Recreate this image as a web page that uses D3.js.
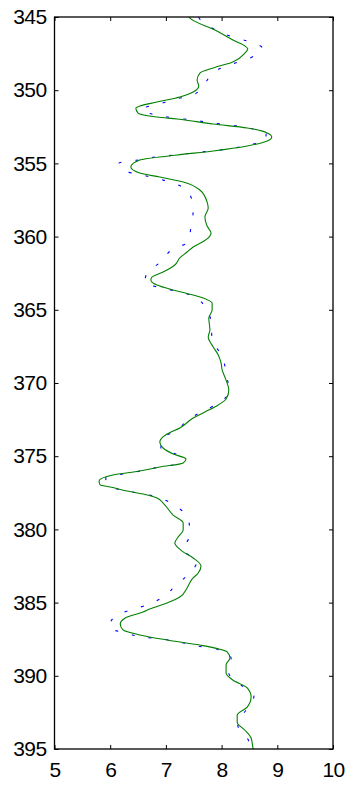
<!DOCTYPE html>
<html>
<head>
<meta charset="utf-8">
<script src="https://cdn.jsdelivr.net/npm/d3@7"></script>
<style>
  body { margin: 0; background: #fff; }
  .tick text { font-family: "Liberation Sans", Arial, sans-serif; font-size: 21px; letter-spacing: -0.6px; fill: #000; }
</style>
</head>
<body>
<div id="chart"></div>
<script>
// Set dimensions
const width = 353;
const height = 785;
const margin = { top: 17, right: 20, bottom: 36, left: 54.5 };

// tick labels
const xTicks = [5, 6, 7, 8, 9, 10];
const yTicks = [345, 350, 355, 360, 365, 370, 375, 380, 385, 390, 395];

// green (solid) series: depth, value
const greenDepth = [344.9, 345.07, 345.89, 346.64, 346.98, 347.19, 347.45, 348.07, 348.48, 348.83, 349.3, 349.71, 350.12, 350.46, 350.81,
  351.08, 351.22, 351.56, 351.83, 351.97, 352.31, 352.58, 352.92, 353.2, 353.47, 353.81, 354.15,
  354.43, 354.77, 355.25, 355.66, 355.93, 356.27, 356.82, 357.64, 358.05, 358.66, 359.28, 359.75,
  360.16, 360.71, 361.05, 361.46, 361.94, 362.42, 362.76, 362.96, 363.31, 363.72, 364.19, 364.54,
  365.01, 365.56, 366.38, 366.86, 367.54, 368.09, 368.63, 369.11, 369.8, 370.48, 371.09, 371.5,
  371.98, 372.39, 373.07, 373.48, 374.03, 374.44, 374.85, 375.19, 375.46, 375.74, 376.01, 376.28,
  376.69, 376.97, 377.1, 377.38, 377.58, 377.85, 378.2, 379.02, 379.56, 380.04, 380.52, 380.93,
  381.48, 381.95, 382.5, 382.98, 383.39, 384.0, 384.62, 385.03, 385.44, 385.64, 386.05, 386.46,
  386.87, 387.21, 387.55, 387.9, 388.37, 388.78, 389.26, 389.81, 390.29, 390.83, 391.45, 392.14,
  392.69, 393.17, 393.72, 394.25, 394.86, 395.2];
const greenValue = [7.41, 7.43, 7.88, 8.24, 8.42, 8.47, 8.42, 8.2, 7.85, 7.61, 7.56, 7.59, 7.49, 7.25, 6.84,
  6.53, 6.46, 6.5, 6.84, 7.2, 7.85, 8.46, 8.82, 8.9, 8.82, 8.46, 7.85,
  7.2, 6.53, 6.37, 6.53, 6.89, 7.31, 7.61, 7.74, 7.76, 7.7, 7.74, 7.81,
  7.74, 7.49, 7.38, 7.25, 7.16, 6.95, 6.75, 6.73, 6.84, 7.2, 7.67, 7.83,
  7.83, 7.77, 7.79, 7.76, 7.85, 7.94, 7.99, 8.01, 8.08, 8.13, 8.08, 7.94,
  7.7, 7.49, 7.25, 7.02, 6.89, 6.95, 7.13, 7.36, 7.31, 6.89, 6.53, 6.05,
  5.8, 5.82, 6.0, 6.3, 6.59, 6.84, 6.95, 7.13, 7.31, 7.31, 7.22, 7.16,
  7.29, 7.49, 7.63, 7.58, 7.47, 7.38, 7.25, 7.02, 6.71, 6.59, 6.27, 6.18,
  6.23, 6.53, 7.02, 7.61, 8.1, 8.15, 8.08, 8.08, 8.2, 8.46, 8.53, 8.46,
  8.28, 8.28, 8.42, 8.53, 8.56, 8.58];

// blue (dashed) series: depth, value
const blueDepth = [344.9, 345.14, 345.82, 346.3, 346.64, 347.12, 347.8, 348.21, 348.62, 349.51, 350.33,
  350.6, 350.94, 351.28, 351.69, 351.9, 352.04, 352.24, 352.38, 352.58, 352.92, 353.47, 353.74,
  354.02, 354.15, 354.29, 354.43, 354.56, 354.77, 354.97, 355.52, 355.79, 356.07, 356.41, 357.09,
  358.18, 359.34, 360.37, 360.85, 361.73, 362.49, 363.17, 363.51, 363.78, 364.19, 365.83, 367.06,
  368.16, 369.32, 370.55, 371.37, 371.91, 372.46, 373.28, 373.76, 374.51, 374.92, 375.53, 375.74,
  376.01, 376.22, 376.49, 377.04, 377.38, 377.58, 377.92, 378.47, 379.36, 380.38, 381.41, 382.16,
  383.05, 383.8, 384.62, 385.16, 385.5, 385.98, 386.73, 387.08, 387.36, 387.49, 387.7, 387.98,
  388.18, 388.8, 389.81, 390.63, 391.38, 393.36, 394.32, 395.2];
const blueValue = [7.57, 7.61, 7.86, 8.15, 8.46, 8.73, 8.51, 8.19, 7.92, 7.7, 7.49,
  7.18, 6.88, 6.57, 6.82, 7.16, 7.49, 7.83, 8.15, 8.47, 8.8, 8.78, 8.47,
  8.13, 7.81, 7.49, 7.15, 6.82, 6.5, 6.16, 6.25, 6.57, 6.88, 7.18, 7.43,
  7.49, 7.45, 7.4, 7.13, 6.91, 6.66, 6.62, 6.93, 7.25, 7.56, 7.81, 7.83,
  8.01, 8.08, 8.13, 7.95, 7.67, 7.41, 7.18, 6.93, 6.91, 7.2, 7.2, 6.88,
  6.55, 6.23, 5.92, 5.98, 6.3, 6.62, 6.93, 7.2, 7.41, 7.43, 7.31, 7.56,
  7.41, 7.18, 6.95, 6.66, 6.37, 6.07, 5.98, 6.28, 6.61, 6.93, 7.25, 7.59,
  7.92, 8.17, 8.13, 8.35, 8.58, 8.29, 8.47, 8.55];

const svg = d3.select("#chart")
  .append("svg")
  .attr("width", width)
  .attr("height", height);

const x = d3.scaleLinear()
  .domain([5, 10])
  .range([margin.left, width - margin.right]);

const y = d3.scaleLinear()
  .domain([345, 395])
  .range([margin.top, height - margin.bottom]);

svg.append("clipPath")
  .attr("id", "clip")
  .append("rect")
  .attr("x", x(5)).attr("y", y(345))
  .attr("width", x(10) - x(5)).attr("height", y(395) - y(345));

const line = d3.line()
  .x(function (d) { return x(d[1]); })
  .y(function (d) { return y(d[0]); })
  .curve(d3.curveMonotoneY);

const blue = blueDepth.map(function (d, i) { return [d, blueValue[i]]; });
const green = greenDepth.map(function (d, i) { return [d, greenValue[i]]; });

const plot = svg.append("g").attr("clip-path", "url(#clip)");

plot.append("path")
  .datum(blue)
  .attr("d", line)
  .attr("fill", "none")
  .attr("stroke", "#0000ff")
  .attr("stroke-width", 1.1)
  .attr("stroke-dasharray", "3,14")
  .attr("stroke-dashoffset", -2);

plot.append("path")
  .datum(green)
  .attr("d", line)
  .attr("fill", "none")
  .attr("stroke", "#008000")
  .attr("stroke-width", 1.1);

// Axes, ticks pointing inward
svg.append("g")
  .attr("transform", "translate(0," + y(395) + ")")
  .call(d3.axisBottom(x).tickValues(xTicks).tickFormat(d3.format("d")).tickSize(-4).tickPadding(13))
  .call(function (g) { g.select(".domain").remove(); })
  .call(function (g) { g.selectAll("text").attr("dy", "0.71em"); });

svg.append("g")
  .attr("transform", "translate(0," + y(345) + ")")
  .call(d3.axisTop(x).tickValues(xTicks).tickFormat("").tickSize(-4))
  .call(function (g) { g.select(".domain").remove(); });

svg.append("g")
  .attr("transform", "translate(" + x(5) + ",0)")
  .call(d3.axisLeft(y).tickValues(yTicks).tickFormat(d3.format("d")).tickSize(-4).tickPadding(8))
  .call(function (g) { g.select(".domain").remove(); });

svg.append("g")
  .attr("transform", "translate(" + x(10) + ",0)")
  .call(d3.axisRight(y).tickValues(yTicks).tickFormat("").tickSize(-4))
  .call(function (g) { g.select(".domain").remove(); });

// Frame
svg.append("rect")
  .attr("x", x(5)).attr("y", y(345))
  .attr("width", x(10) - x(5)).attr("height", y(395) - y(345))
  .attr("fill", "none")
  .attr("stroke", "#000")
  .attr("stroke-width", 1.3);
</script>
</body>
</html>
